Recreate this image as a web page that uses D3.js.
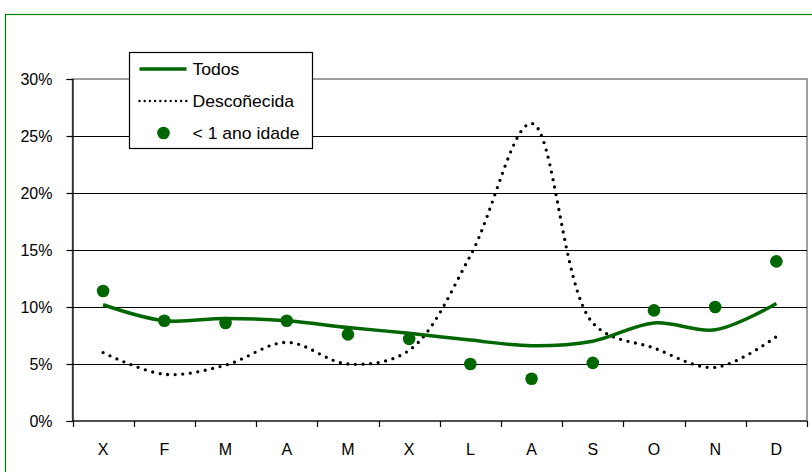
<!DOCTYPE html>
<html>
<head>
<meta charset="utf-8">
<script src="https://cdn.jsdelivr.net/npm/d3@7"></script>
<style>
  body { margin: 0; background: #fff; }
  svg text { font-family: "Liberation Sans", Arial, sans-serif; fill: #000; }
</style>
</head>
<body>
<script>
// months, Xaneiro..Decembro
var months = ["X", "F", "M", "A", "M", "X", "L", "A", "S", "O", "N", "D"];
var todos = [10.2, 8.8, 9.0, 8.8, 8.2, 7.7, 7.1, 6.6, 7.0, 8.6, 8.0, 10.3];
var descoñecida = [6.0, 4.1, 4.9, 6.9, 5.0, 6.2, 14.5, 26.1, 8.6, 6.4, 4.7, 7.4];
var menos1ano = [11.4, 8.8, 8.6, 8.8, 7.6, 7.2, 5.0, 3.7, 5.1, 9.7, 10.0, 14.0];
var yTicks = [0, 5, 10, 15, 20, 25, 30];

var width = 812, height = 472;
var green = "#006600";

var svg = d3.select("body").append("svg")
  .attr("width", width)
  .attr("height", height);

// outer chart frame
svg.append("rect")
  .attr("x", 5.5).attr("y", 14.5)
  .attr("width", 820).attr("height", 480)
  .attr("fill", "none")
  .attr("stroke", "#008000")
  .attr("stroke-width", 1.2);

var plotLeft = 72.5, plotRight = 807, plotTop = 79, plotBottom = 421;

var x = d3.scaleBand()
  .domain(d3.range(months.length))
  .range([plotLeft, plotRight])
  .padding(0);

var y = d3.scaleLinear()
  .domain([0, 30])
  .range([plotBottom, plotTop]);

function cx(i) { return x(i) + x.bandwidth() / 2; }

// plot area border (gray)
svg.append("rect")
  .attr("x", plotLeft).attr("y", plotTop)
  .attr("width", plotRight - plotLeft).attr("height", plotBottom - plotTop)
  .attr("fill", "none")
  .attr("stroke", "#808080")
  .attr("stroke-width", 1.5);

// gridlines
svg.append("g")
  .selectAll("line")
  .data(yTicks.filter(function(d) { return d > 0 && d < 30; }))
  .enter().append("line")
  .attr("x1", plotLeft).attr("x2", plotRight)
  .attr("y1", function(d) { return Math.round(y(d)) + 0.5; })
  .attr("y2", function(d) { return Math.round(y(d)) + 0.5; })
  .attr("stroke", "#000")
  .attr("stroke-width", 1);

// y axis
var yAxis = svg.append("g")
  .attr("transform", "translate(" + plotLeft + ",0)")
  .call(d3.axisLeft(y).tickValues(yTicks).tickSize(6).tickPadding(14)
    .tickFormat(function(d) { return d + "%"; }));
yAxis.select(".domain").attr("stroke", "#000").attr("stroke-width", 1.2);
yAxis.selectAll(".tick line").attr("stroke", "#000").attr("stroke-width", 1.2);
yAxis.selectAll("text").style("font-size", "16px").attr("dy", "0.35em");

// x axis: ticks between categories
var xAxis = svg.append("g")
  .attr("transform", "translate(0," + plotBottom + ")");
xAxis.append("line")
  .attr("x1", plotLeft).attr("x2", plotRight)
  .attr("stroke", "#000").attr("stroke-width", 1.2);
xAxis.selectAll(".tk")
  .data(d3.range(months.length + 1))
  .enter().append("line")
  .attr("class", "tk")
  .attr("x1", function(i) { return Math.round(plotLeft + i * x.bandwidth()) + 0.5; })
  .attr("x2", function(i) { return Math.round(plotLeft + i * x.bandwidth()) + 0.5; })
  .attr("y1", 0).attr("y2", 6)
  .attr("stroke", "#000").attr("stroke-width", 1.2);
xAxis.selectAll(".lbl")
  .data(months)
  .enter().append("text")
  .attr("class", "lbl")
  .attr("x", function(d, i) { return cx(i); })
  .attr("y", 34)
  .attr("text-anchor", "middle")
  .style("font-size", "16px")
  .text(function(d) { return d; });

var line = d3.line()
  .x(function(d, i) { return cx(i); })
  .y(function(d) { return y(d); })
  .curve(d3.curveCatmullRom.alpha(0.5));

// Descoñecida (dotted)
svg.append("path")
  .datum(descoñecida)
  .attr("d", line)
  .attr("fill", "none")
  .attr("stroke", "#000")
  .attr("stroke-width", 3.3)
  .attr("stroke-linecap", "round")
  .attr("stroke-dasharray", "0,7.6");

// Todos
svg.append("path")
  .datum(todos)
  .attr("d", line)
  .attr("fill", "none")
  .attr("stroke", green)
  .attr("stroke-width", 3.5);

// < 1 ano idade
svg.append("g")
  .selectAll("circle")
  .data(menos1ano)
  .enter().append("circle")
  .attr("cx", function(d, i) { return cx(i); })
  .attr("cy", function(d) { return y(d); })
  .attr("r", 6.3)
  .attr("fill", green);

// legend
var legend = svg.append("g").attr("transform", "translate(129.5,52.5)");
legend.append("rect")
  .attr("width", 183).attr("height", 96)
  .attr("fill", "#fff")
  .attr("stroke", "#000")
  .attr("stroke-width", 1.2);
var legendItems = ["Todos", "Descoñecida", "< 1 ano idade"];
legendItems.forEach(function(name, i) {
  var ly = 16.5 + i * 32;
  if (i === 0) {
    legend.append("line").attr("x1", 10).attr("x2", 57).attr("y1", ly).attr("y2", ly)
      .attr("stroke", green).attr("stroke-width", 3.5);
  } else if (i === 1) {
    legend.append("line").attr("x1", 10).attr("x2", 57).attr("y1", ly).attr("y2", ly)
      .attr("stroke", "#000").attr("stroke-width", 2.4)
      .attr("stroke-linecap", "round").attr("stroke-dasharray", "0,5.2");
  } else {
    legend.append("circle").attr("cx", 34).attr("cy", ly).attr("r", 6.3).attr("fill", green);
  }
  legend.append("text")
    .attr("x", 63).attr("y", ly)
    .attr("dy", "0.35em")
    .attr("transform", "translate(63," + ly + ") scale(1.1,1) translate(-63," + (-ly) + ")")
    .style("font-size", "16px")
    .text(name);
});
</script>
</body>
</html>
